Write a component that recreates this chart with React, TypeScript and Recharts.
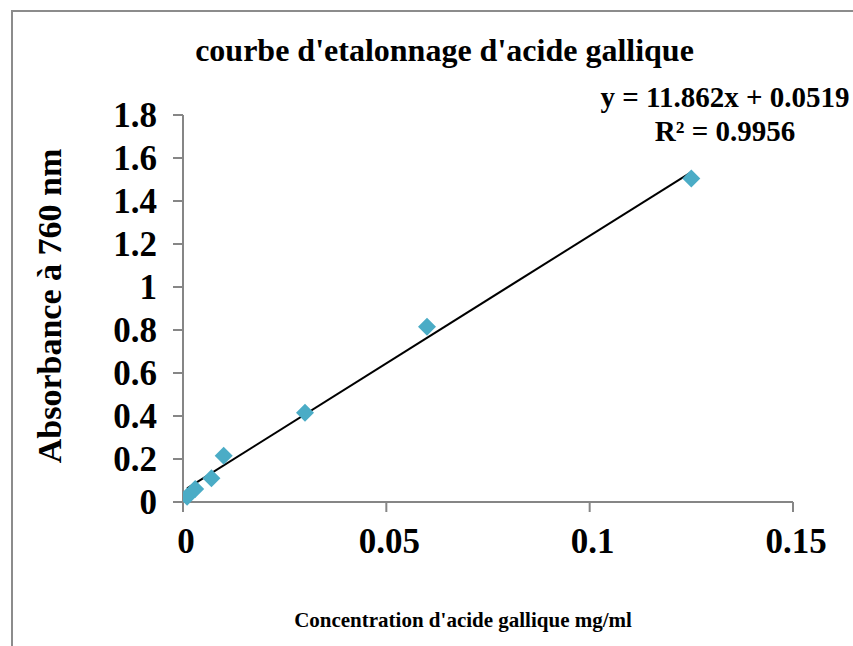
import React from "react";
import { ComposedChart, Scatter, Line, XAxis, YAxis } from "recharts";

const concentrations = [0.001, 0.003, 0.007, 0.01, 0.03, 0.06, 0.125];
const absorbances = [0.025, 0.06, 0.11, 0.215, 0.415, 0.815, 1.505];
const xTicks = [0, 0.05, 0.1, 0.15];
const yTicks = [0, 0.2, 0.4, 0.6, 0.8, 1, 1.2, 1.4, 1.6, 1.8];
const slope = 11.862;
const intercept = 0.0519;
const trendX = [0.001, 0.125];

const points = concentrations.map((x, i) => ({ x, y: absorbances[i] }));
const trend = trendX.map((x) => ({ x, t: slope * x + intercept }));

const FONT = "'Liberation Serif', 'Times New Roman', serif";
const AXIS = "#868686";

const Diamond = (props: any) => {
  const { cx, cy } = props;
  const r = 9;
  return (
    <polygon
      points={`${cx},${cy - r} ${cx + r},${cy} ${cx},${cy + r} ${cx - r},${cy}`}
      fill="#4BACC6"
    />
  );
};

const fmt = (v: number) => String(v);

export default function App() {
  return (
    <div style={{ position: "absolute", left: 0, top: 0, width: 853, height: 646, background: "#fff", overflow: "hidden" }}>
      <div
        style={{
          position: "absolute",
          left: 11,
          top: 10,
          width: 900,
          height: 700,
          border: "2px solid #8c8c8c",
          boxSizing: "border-box",
        }}
      />
      <div style={{ position: "absolute", left: 0, top: 0 }}>
        <ComposedChart
          width={853}
          height={646}
          margin={{ top: 115, right: 60, bottom: 84, left: 0 }}
        >
          <XAxis
            dataKey="x"
            type="number"
            domain={[0, 0.15]}
            ticks={xTicks}
            tickFormatter={fmt}
            interval={0}
            height={60}
            stroke={AXIS}
            strokeWidth={2}
            tickSize={10}
            tick={{ fill: "#000", fontSize: 35, fontWeight: "bold", fontFamily: FONT, dy: 14, dx: 3 }}
            allowDataOverflow
          />
          <YAxis
            type="number"
            domain={[0, 1.8]}
            ticks={yTicks}
            tickFormatter={fmt}
            interval={0}
            width={183}
            stroke={AXIS}
            strokeWidth={2}
            tickSize={10}
            tick={{ fill: "#000", fontSize: 35, fontWeight: "bold", fontFamily: FONT, dx: -14 }}
          />
          <Line
            data={trend}
            dataKey="t"
            stroke="#000"
            strokeWidth={2}
            dot={false}
            activeDot={false}
            isAnimationActive={false}
          />
          <Scatter
            data={points}
            dataKey="y"
            shape={<Diamond />}
            isAnimationActive={false}
          />
        </ComposedChart>
      </div>
      <div
        style={{
          position: "absolute",
          left: 0,
          width: 889,
          top: 30,
          textAlign: "center",
          fontFamily: FONT,
          fontWeight: "bold",
          fontSize: 32,
          lineHeight: "40px",
        }}
      >
        courbe d'etalonnage d'acide gallique
      </div>
      <div
        style={{
          position: "absolute",
          left: 575,
          width: 300,
          top: 80,
          textAlign: "center",
          fontFamily: FONT,
          fontWeight: "bold",
          fontSize: 29,
          lineHeight: "34px",
          whiteSpace: "nowrap",
        }}
      >
        <div>y = 11.862x + 0.0519</div>
        <div>R² = 0.9956</div>
      </div>
      <div
        style={{
          position: "absolute",
          left: 50,
          top: 306,
          transform: "translate(-50%, -50%) rotate(-90deg)",
          whiteSpace: "nowrap",
          fontFamily: FONT,
          fontWeight: "bold",
          fontSize: 34,
          lineHeight: "40px",
        }}
      >
        Absorbance à 760 nm
      </div>
      <div
        style={{
          position: "absolute",
          left: 0,
          width: 926,
          top: 607,
          textAlign: "center",
          fontFamily: FONT,
          fontWeight: "bold",
          fontSize: 21,
          lineHeight: "26px",
        }}
      >
        Concentration d'acide gallique mg/ml
      </div>
    </div>
  );
}
